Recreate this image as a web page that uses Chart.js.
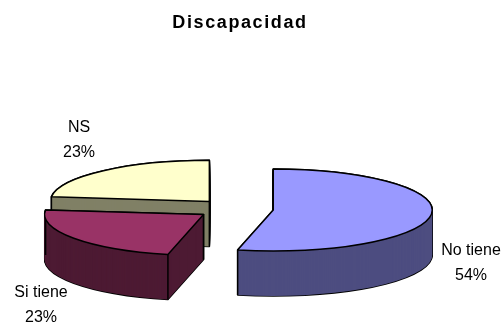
<!DOCTYPE html>
<html lang="es">
    <head>
        <meta charset="utf-8" />
        <script src="https://cdn.jsdelivr.net/npm/chart.js@4"></script>
        <title>Discapacidad</title>
        <style>
            html, body { margin: 0; padding: 0; background: #fff; }
            canvas { display: block; }
        </style>
    </head>
    <body>
        <canvas id="torta" width="504" height="324"></canvas>
        <script>
            const categorias = ["No tiene", "Si tiene", "NS"];
            const valores = [53.6, 23.2, 23.2];
            const colores = ["#9999FF", "#993366", "#FFFFCC"];
            const coloresLado = ["#4D4D80", "#4D1A33", "#808066"];

            // Geometria de la vista 3D
            const aplastado = 0.258;
            const profundidad = 45;
            const separacion = 38.5;
            const etiquetasPos = [[471, 263.5], [41, 305.5], [79, 140.5]];

            // Centro de la tajada ya separada y proyectada
            function centroTajada(arco) {
                const medio = (arco.startAngle + arco.endAngle) / 2;
                return [
                    arco.x + Math.cos(medio) * separacion,
                    arco.y + Math.sin(medio) * separacion * aplastado
                ];
            }

            // Arma el camino con la escala y la suelta antes del stroke, asi el trazo no queda aplastado
            function caminoTajada(ctx, arco, dy) {
                const c = centroTajada(arco);
                ctx.save();
                ctx.translate(c[0], c[1] + dy);
                ctx.scale(1, aplastado);
                ctx.beginPath();
                ctx.moveTo(0, 0);
                ctx.arc(0, 0, arco.outerRadius, arco.startAngle, arco.endAngle);
                ctx.closePath();
                ctx.restore();
            }

            const torta3d = {
                id: "torta3d",
                afterLayout(chart) {
                    // El titulo no queda centrado sobre la torta
                    chart.titleBlock.left += 5;
                    chart.titleBlock.right += 5;
                },
                beforeDraw(chart) {
                    // Solo el titulo va con letras separadas
                    chart.ctx.letterSpacing = "1.6px";
                },
                beforeDatasetDraw(chart) {
                    const ctx = chart.ctx;
                    const arcos = chart.getDatasetMeta(0).data;
                    // Primero lo de atras: NS, Si tiene, No tiene
                    [2, 1, 0].forEach(i => {
                        const arco = arcos[i];
                        const c = centroTajada(arco);
                        ctx.save();
                        ctx.lineJoin = "round";
                        // Silueta negra del cuerpo
                        ctx.strokeStyle = "#000";
                        ctx.lineWidth = 1.5;
                        for (let d = profundidad; d >= 0; d--) {
                            caminoTajada(ctx, arco, d);
                            ctx.stroke();
                        }
                        // Relleno del lado
                        ctx.fillStyle = coloresLado[i];
                        for (let d = profundidad; d >= 0; d--) {
                            caminoTajada(ctx, arco, d);
                            ctx.fill();
                        }
                        // Aristas verticales de los cortes
                        ctx.beginPath();
                        [arco.startAngle, arco.endAngle].forEach(a => {
                            const x = c[0] + Math.cos(a) * arco.outerRadius;
                            const y = c[1] + Math.sin(a) * arco.outerRadius * aplastado;
                            ctx.moveTo(x, y);
                            ctx.lineTo(x, y + profundidad);
                        });
                        // La arista del centro no se ve en la tajada grande
                        if (arco.circumference < Math.PI) {
                            ctx.moveTo(c[0], c[1]);
                            ctx.lineTo(c[0], c[1] + profundidad);
                        }
                        ctx.stroke();
                        // Cara superior con el arco de Chart.js
                        ctx.save();
                        ctx.translate(c[0], c[1]);
                        ctx.scale(1, aplastado);
                        ctx.translate(-arco.x, -arco.y);
                        arco.draw(ctx);
                        ctx.restore();
                        caminoTajada(ctx, arco, 0);
                        ctx.stroke();
                        ctx.restore();
                    });
                    return false;
                },
                afterDraw(chart) {
                    const ctx = chart.ctx;
                    ctx.save();
                    ctx.letterSpacing = "0px";
                    ctx.fillStyle = "#000";
                    ctx.font = "16px 'Liberation Sans'";
                    ctx.textAlign = "center";
                    ctx.textBaseline = "middle";
                    categorias.forEach((c, i) => {
                        const p = etiquetasPos[i];
                        ctx.fillText(c, p[0], p[1] - 12.5);
                        ctx.fillText(Math.round(valores[i]) + "%", p[0], p[1] + 12.5);
                    });
                    ctx.restore();
                }
            };

            new Chart(document.getElementById("torta").getContext("2d"), {
                type: "pie",
                data: {
                    labels: categorias,
                    datasets: [{ data: valores, backgroundColor: colores, borderWidth: 0 }]
                },
                options: {
                    responsive: false,
                    animation: false,
                    radius: 159,
                    layout: { padding: { right: 34 } },
                    plugins: {
                        legend: { display: false },
                        tooltip: { enabled: false },
                        title: {
                            display: true,
                            fullSize: false,
                            text: "Discapacidad",
                            color: "#000",
                            font: { family: "'Liberation Sans'", size: 18, weight: "bold" },
                            padding: { top: 12, bottom: 60 }
                        }
                    }
                },
                plugins: [torta3d]
            });
        </script>
    </body>
</html>
